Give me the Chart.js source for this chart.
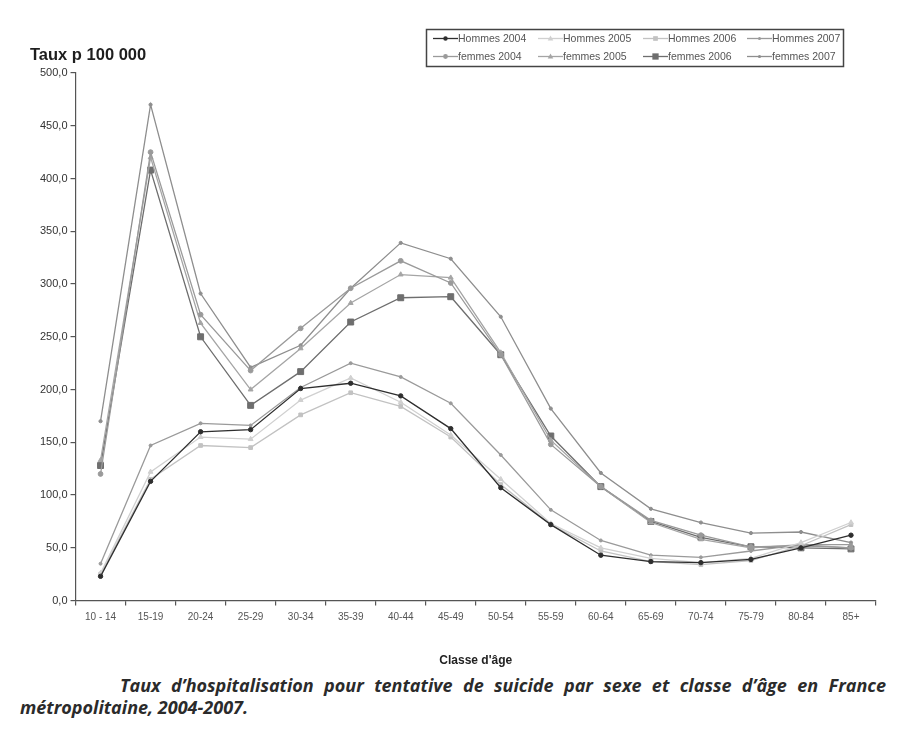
<!DOCTYPE html>
<html lang="fr">
<head>
<meta charset="utf-8">
<script src="https://cdn.jsdelivr.net/npm/chart.js@4.4.1/dist/chart.umd.min.js"></script>
<style>
  body { margin: 0; background: #fff; width: 916px; height: 742px; overflow: hidden; }
  #zone { position: relative; width: 916px; height: 670px; }
  .legende-bas {
    position: absolute; left: 20px; top: 674px; width: 866px;
    font-family: "Open Sans", "Noto Sans", sans-serif; font-style: italic; font-weight: 700;
    font-size: 18px; line-height: 22px; color: #2b2b2b;
  }
  .legende-bas .l1 { padding-left: 100px; text-align: justify; text-align-last: justify; }
</style>
</head>
<body>
<div id="zone"><canvas id="graph" width="916" height="670"></canvas></div>
<div class="legende-bas">
  <div class="l1">Taux d’hospitalisation pour tentative de suicide par sexe et classe d’âge en France</div>
  <div>métropolitaine, 2004-2007.</div>
</div>
<script>
// Classes d'âge (axe X)
const classes = ['10 - 14', '15-19', '20-24', '25-29', '30-34', '35-39', '40-44', '45-49',
                 '50-54', '55-59', '60-64', '65-69', '70-74', '75-79', '80-84', '85+'];

// Taux p 100 000
const hommes2004 = [23, 113, 160, 162, 201, 206, 194, 163, 107, 72, 43, 37, 36, 39, 50, 62];
const hommes2005 = [26, 122, 155, 153, 190, 211, 188, 157, 115, 73, 50, 40, 36, 40, 55, 74];
const hommes2006 = [25, 115, 147, 145, 176, 197, 184, 155, 110, 72, 47, 37, 34, 38, 52, 72];
const hommes2007 = [35, 147, 168, 166, 202, 225, 212, 187, 138, 86, 57, 43, 41, 47, 53, 53];
const femmes2004 = [120, 425, 271, 218, 258, 296, 322, 301, 233, 148, 108, 76, 62, 51, 52, 50];
const femmes2005 = [133, 420, 263, 200, 239, 282, 309, 306, 235, 152, 108, 74, 58, 50, 53, 50];
const femmes2006 = [128, 408, 250, 185, 217, 264, 287, 288, 233, 156, 108, 75, 60, 51, 50, 49];
const femmes2007 = [170, 470, 291, 221, 242, 296, 339, 324, 269, 182, 121, 87, 74, 64, 65, 55];

const series = [
  { label: 'Hommes 2004', data: hommes2004 },
  { label: 'Hommes 2005', data: hommes2005 },
  { label: 'Hommes 2006', data: hommes2006 },
  { label: 'Hommes 2007', data: hommes2007 },
  { label: 'femmes 2004', data: femmes2004 },
  { label: 'femmes 2005', data: femmes2005 },
  { label: 'femmes 2006', data: femmes2006 },
  { label: 'femmes 2007', data: femmes2007 }
];

// Styles (même ordre que les séries)
const styles = [
  { couleur: '#2e2e2e', forme: 'circle',   rayon: 2.2 },
  { couleur: '#d0d0d0', forme: 'triangle', rayon: 2.8 },
  { couleur: '#c2c2c2', forme: 'rect',     rayon: 2.6 },
  { couleur: '#9a9a9a', forme: 'circle',   rayon: 1.5 },
  { couleur: '#9a9a9a', forme: 'circle',   rayon: 2.4 },
  { couleur: '#a5a5a5', forme: 'triangle', rayon: 2.8 },
  { couleur: '#6e6e6e', forme: 'rect',     rayon: 4.2 },
  { couleur: '#8e8e8e', forme: 'circle',   rayon: 1.6 }
];

const datasets = series.map((s, i) => ({
  label: s.label,
  data: s.data,
  borderColor: styles[i].couleur,
  backgroundColor: styles[i].couleur,
  pointBackgroundColor: styles[i].couleur,
  pointBorderColor: styles[i].couleur,
  pointStyle: styles[i].forme,
  pointRadius: styles[i].rayon,
  pointBorderWidth: 1,
  borderWidth: 1.3,
  tension: 0
}));

// petit marqueur pour la légende
function dessinerMarqueur(ctx, forme, x, y, r) {
  ctx.beginPath();
  if (forme === 'circle') {
    ctx.arc(x, y, r, 0, Math.PI * 2);
  } else if (forme === 'rect') {
    ctx.rect(x - r * 0.9, y - r * 0.9, r * 1.8, r * 1.8);
  } else if (forme === 'triangle') {
    ctx.moveTo(x, y - r * 1.1);
    ctx.lineTo(x + r, y + r * 0.7);
    ctx.lineTo(x - r, y + r * 0.7);
    ctx.closePath();
  }
  ctx.fill();
}

const habillage = {
  id: 'habillage',
  afterDraw(chart) {
    const ctx = chart.ctx;
    ctx.save();

    // titre de l'axe Y
    ctx.fillStyle = '#1e1e1e';
    ctx.font = 'bold 16.5px "Liberation Sans", Arial, sans-serif';
    ctx.textAlign = 'left';
    ctx.textBaseline = 'middle';
    ctx.fillText('Taux p 100 000', 30, 55);

    // cadre de légende
    ctx.strokeStyle = '#444';
    ctx.lineWidth = 1.5;
    ctx.strokeRect(426.5, 29.5, 417, 37);

    const colX = [433, 538, 643, 747];
    const rowY = [38.5, 56.5];
    ctx.font = '10.5px "Liberation Sans", Arial, sans-serif';
    chart.data.datasets.forEach((ds, i) => {
      const x = colX[i % 4];
      const y = rowY[Math.floor(i / 4)];
      ctx.strokeStyle = ds.borderColor;
      ctx.fillStyle = ds.borderColor;
      ctx.lineWidth = 1.3;
      ctx.beginPath();
      ctx.moveTo(x, y);
      ctx.lineTo(x + 25, y);
      ctx.stroke();
      dessinerMarqueur(ctx, ds.pointStyle, x + 12.5, y, Math.min(ds.pointRadius, 3.5));
      ctx.fillStyle = '#555';
      ctx.fillText(ds.label, x + 25, y + 0.5);
    });
    ctx.restore();
  }
};

new Chart(document.getElementById('graph'), {
  type: 'line',
  data: { labels: classes, datasets: datasets },
  options: {
    responsive: false,
    animation: false,
    devicePixelRatio: 1,
    layout: { padding: { top: 73, left: 37, right: 40, bottom: 0 } },
    plugins: {
      legend: { display: false },
      tooltip: { enabled: false }
    },
    scales: {
      x: {
        offset: true,
        grid: { offset: true, drawOnChartArea: false, tickLength: 5, color: '#555', lineWidth: 1.2 },
        border: { color: '#555', width: 1.2 },
        ticks: {
          color: '#555', padding: 6, maxRotation: 0, autoSkip: false,
          font: { family: '"Liberation Sans", Arial, sans-serif', size: 10 }
        },
        title: {
          display: true, text: "Classe d'âge", color: '#222',
          font: { family: '"Liberation Sans", Arial, sans-serif', size: 12, weight: 'bold' },
          padding: { top: 24, bottom: 2 }
        }
      },
      y: {
        min: 0, max: 500,
        grid: { drawOnChartArea: false, tickLength: 5, color: '#555', lineWidth: 1.2 },
        border: { color: '#555', width: 1.2 },
        ticks: {
          stepSize: 50, color: '#333', padding: 3,
          font: { family: '"Liberation Sans", Arial, sans-serif', size: 11 },
          callback: v => v.toFixed(1).replace('.', ',')
        }
      }
    }
  },
  plugins: [habillage]
});
</script>
</body>
</html>
